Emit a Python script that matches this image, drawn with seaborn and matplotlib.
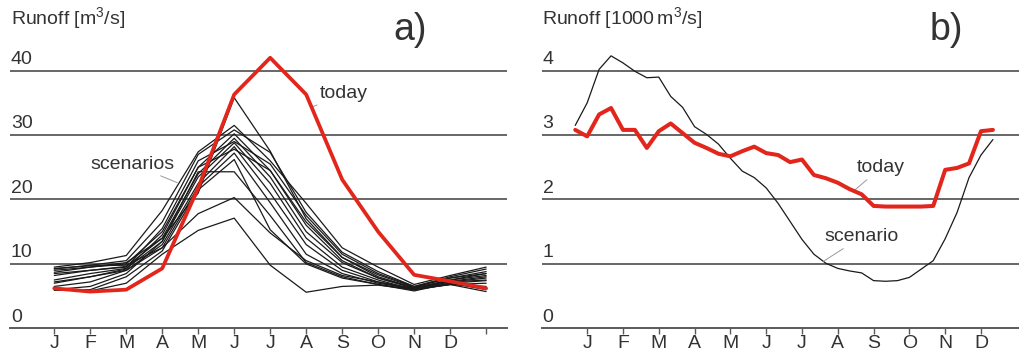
import numpy as np
import pandas as pd
import matplotlib
matplotlib.use("Agg")
import matplotlib.pyplot as plt
import seaborn as sns

# month labels (left panel has an extra closing tick)
months = ["J", "F", "M", "A", "M", "J", "J", "A", "S", "O", "N", "D"]

# a) monthly runoff [m3/s], 13 points (Jan .. next Jan)
today_a = [6.2, 5.7, 6.0, 9.3, 21.8, 36.3, 42.0, 36.3, 23.1, 15.0, 8.3, 7.3, 6.2]

scenarios_a = [
    [9.0, 9.5, 10.2, 14.0, 21.0, 35.8, 27.5, 17.0, 11.0, 8.0, 6.3, 7.5, 8.5],
    [9.5, 10.2, 11.3, 18.3, 27.4, 31.5, 26.0, 19.4, 12.5, 9.5, 6.8, 8.2, 9.5],
    [9.2, 9.8, 10.5, 16.5, 27.0, 30.8, 27.3, 18.0, 11.8, 8.8, 6.5, 8.0, 9.2],
    [8.7, 9.5, 10.0, 15.0, 25.0, 30.2, 24.5, 16.5, 11.0, 8.3, 6.4, 7.8, 8.8],
    [8.2, 9.0, 9.6, 14.0, 24.0, 29.5, 23.5, 15.0, 10.2, 7.8, 6.2, 7.5, 8.2],
    [7.5, 8.5, 9.3, 13.5, 23.5, 28.8, 22.5, 14.0, 9.5, 7.5, 6.0, 7.2, 7.8],
    [7.0, 8.0, 9.0, 13.0, 22.5, 28.2, 21.0, 13.0, 9.0, 7.2, 6.0, 7.0, 7.4],
    [6.5, 7.2, 9.0, 12.5, 22.0, 27.2, 19.5, 11.5, 8.5, 7.0, 6.1, 6.8, 7.0],
    [6.0, 6.5, 8.5, 13.5, 24.3, 24.3, 17.5, 10.2, 8.0, 6.8, 6.0, 6.8, 6.5],
    [5.9, 6.0, 8.0, 12.0, 21.5, 26.2, 15.3, 10.0, 7.8, 6.8, 5.8, 7.0, 6.0],
    [9.3, 9.7, 9.8, 12.5, 17.8, 20.3, 14.8, 10.5, 8.2, 7.2, 6.2, 7.2, 7.5],
    [6.0, 5.8, 7.0, 11.5, 15.2, 17.1, 9.8, 5.6, 6.5, 6.7, 6.0, 6.8, 5.7],
    [8.5, 9.0, 9.5, 15.5, 26.0, 29.0, 25.5, 17.5, 11.5, 8.5, 6.5, 7.8, 8.5],
    [7.2, 8.0, 9.2, 14.5, 25.0, 27.8, 24.5, 16.0, 10.5, 7.8, 6.3, 7.3, 8.0],
]

# b) 10-day runoff [1000 m3/s], 36 decades
today_b = [3.08, 2.98, 3.32, 3.42, 3.08, 3.08, 2.80, 3.06, 3.18, 3.03, 2.88, 2.80,
           2.71, 2.67, 2.75, 2.82, 2.72, 2.69, 2.58, 2.62, 2.38, 2.33, 2.26, 2.16,
           2.08, 1.90, 1.89, 1.89, 1.89, 1.89, 1.90, 2.46, 2.49, 2.56, 3.06, 3.08]
scenario_b = [3.15, 3.50, 4.02, 4.23, 4.12, 3.99, 3.89, 3.90, 3.60, 3.43, 3.13, 3.01,
              2.86, 2.64, 2.44, 2.34, 2.18, 1.94, 1.66, 1.38, 1.15, 1.01, 0.93, 0.89,
              0.86, 0.74, 0.73, 0.74, 0.79, 0.92, 1.05, 1.39, 1.80, 2.34, 2.69, 2.93]

sns.set_style("white")
plt.rcParams["font.family"] = ["Liberation Sans", "DejaVu Sans"]
plt.rcParams["mathtext.fontset"] = "custom"
plt.rcParams["mathtext.rm"] = "Liberation Sans"

RED = "#e2261b"
GRID = "#5a5a5a"
TXT = "#333333"
FS = 14

x_a = np.arange(len(today_a))
df_sc = pd.DataFrame(
    [(i, m, v) for i, s in enumerate(scenarios_a) for m, v in zip(x_a, s)],
    columns=["scenario", "month", "runoff"],
)
df_today_a = pd.DataFrame({"month": x_a, "runoff": today_a})

x_b = np.arange(len(today_b)) / 3 - 1 / 3
df_b = pd.DataFrame({"t": x_b, "today": today_b, "scenario": scenario_b})

fig = plt.figure(figsize=(10.2, 3.54), dpi=100)
ax1 = fig.add_axes([10 / 1020, 0.0726, 497 / 1020, 0.837])
ax2 = fig.add_axes([541.7 / 1020, 0.0726, 478.3 / 1020, 0.837])

# panel a
sns.lineplot(data=df_sc, x="month", y="runoff", units="scenario", estimator=None,
             color="#1a1a1a", lw=0.9, ax=ax1, zorder=3)
sns.lineplot(data=df_today_a, x="month", y="runoff", color=RED, lw=2.7, ax=ax1, zorder=4)
ax1.set_xlim(-1.23, 12.58)
ax1.set_ylim(0, 46)
ax1.set_xticks(x_a)
ax1.set_xticklabels(months + [""])
for v in [10, 20, 30, 40]:
    ax1.axhline(v, color=GRID, lw=1.3, zorder=1)
for v in [0, 10, 20, 30, 40]:
    ax1.text(0.002, v + 0.4, str(v), transform=ax1.get_yaxis_transform(),
             ha="left", va="bottom", fontsize=FS, color=TXT)

# panel b
sns.lineplot(data=df_b, x="t", y="scenario", color="#1a1a1a", lw=0.9, ax=ax2, zorder=3)
sns.lineplot(data=df_b, x="t", y="today", color=RED, lw=2.9, ax=ax2, zorder=4)
ax2.set_xlim(-1.27, 12.09)
ax2.set_ylim(0, 4.6)
ax2.set_xticks(np.arange(12))
ax2.set_xticklabels(months)
for v in [1, 2, 3, 4]:
    ax2.axhline(v, color=GRID, lw=1.3, zorder=1)
for v in [0, 1, 2, 3, 4]:
    ax2.text(0.002, v + 0.04, str(v), transform=ax2.get_yaxis_transform(),
             ha="left", va="bottom", fontsize=FS, color=TXT)

for ax in (ax1, ax2):
    ax.set_xlabel("")
    ax.set_ylabel("")
    ax.set_yticks([])
    for s in ["top", "right", "left"]:
        ax.spines[s].set_visible(False)
    ax.spines["bottom"].set_color(GRID)
    ax.spines["bottom"].set_linewidth(1.4)
    ax.tick_params(axis="x", direction="out", length=4, width=1, color=GRID,
                   pad=1.0, labelsize=FS, labelcolor=TXT, bottom=True)
    ax.patch.set_alpha(0)

# annotations with thin leader lines
lead = dict(arrowstyle="-", color="#9a9a9a", lw=0.7, shrinkA=0, shrinkB=0)
ax1.annotate("today", xy=(7.15, 34.3), xytext=(7.38, 36.5), fontsize=FS, color=TXT,
             ha="left", va="center", arrowprops=lead)
ax1.annotate("scenarios", xy=(3.42, 22.6), xytext=(3.33, 25.5), fontsize=FS, color=TXT,
             ha="right", va="center", arrowprops=lead)
ax2.annotate("today", xy=(7.42, 2.12), xytext=(7.53, 2.49), fontsize=FS, color=TXT,
             ha="left", va="center", arrowprops=lead)
ax2.annotate("scenario", xy=(6.6, 1.04), xytext=(6.63, 1.42), fontsize=FS, color=TXT,
             ha="left", va="center", arrowprops=lead)

fig.text(11 / 1020, 1 - 19 / 354, r"Runoff [m$^\mathregular{3}$/s]", fontsize=14,
         color=TXT, va="center")
fig.text(542 / 1020, 1 - 19 / 354, r"Runoff [1000$\,$m$^\mathregular{3}$/s]", fontsize=14,
         color=TXT, va="center")
fig.text(393 / 1020, 1 - 30 / 354, "a)", fontsize=27, color=TXT, va="center")
fig.text(930 / 1020, 1 - 30 / 354, "b)", fontsize=27, color=TXT, va="center")

fig.savefig("out.png", dpi=100)
